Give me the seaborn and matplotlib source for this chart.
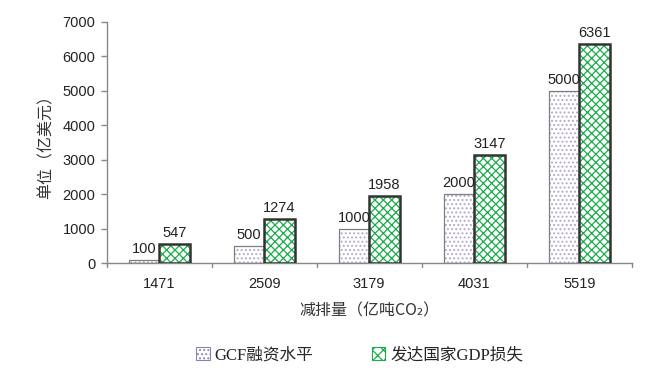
import matplotlib
matplotlib.use("Agg")
import matplotlib.pyplot as plt
import seaborn as sns
import pandas as pd
from matplotlib.patches import Rectangle

categories = ["1471", "2509", "3179", "4031", "5519"]
gcf_values = [100, 500, 1000, 2000, 5000]
gdp_values = [547, 1274, 1958, 3147, 6361]
series_names = ["GCF融资水平", "发达国家GDP损失"]
yticks = [0, 1000, 2000, 3000, 4000, 5000, 6000, 7000]

sns.set_theme(style="white")
plt.rcParams['font.family'] = ['Liberation Sans', 'Noto Sans CJK SC', 'DejaVu Sans']
plt.rcParams['hatch.linewidth'] = 0.9

df = pd.DataFrame({
    "cat": categories * 2,
    "val": gcf_values + gdp_values,
    "series": [series_names[0]] * 5 + [series_names[1]] * 5,
})

fig = plt.figure(figsize=(6.54, 3.77), dpi=100)
ax = fig.add_axes([0.163, 0.302, 0.803, 0.640])

sns.barplot(data=df, x="cat", y="val", hue="series", hue_order=series_names,
            order=categories, width=0.58, gap=0, ax=ax, legend=False,
            palette=["white", "white"], saturation=1)

styles = [
    dict(hatch="....", hcolor="#b3a6cc", ecolor="#7f7f7f", lw=0.9),
    dict(hatch="xxxx", hcolor="#1aab4a", ecolor="#333333", lw=1.8),
]
bars = [p for p in ax.patches if isinstance(p, Rectangle)]
for i, p in enumerate(bars[:10]):
    s = styles[i // 5]
    p.set_facecolor("white")
    p.set_hatch(s["hatch"])
    p.set_edgecolor(s["hcolor"])
    p.set_linewidth(0)
    ax.add_patch(Rectangle((p.get_x(), p.get_y()), p.get_width(), p.get_height(),
                           fill=False, edgecolor=s["ecolor"], linewidth=s["lw"], zorder=3))
    v = p.get_height()
    ax.text(p.get_x() + p.get_width() / 2, v + 120, f"{int(v)}",
            ha="center", va="bottom", fontsize=10.5, color="#222222",
            family=['Liberation Sans', 'DejaVu Sans'], zorder=4)

ax.set_ylim(0, 7000)
ax.set_yticks(yticks)
ax.set_yticklabels([str(t) for t in yticks], fontsize=10.5, color="#222222")
ax.set_xlim(-0.5, 4.5)
ax.set_xticks(range(5))
ax.set_xticklabels(categories, fontsize=10.5, color="#222222")
ax.tick_params(axis="x", length=0, pad=10)
ax.tick_params(axis="y", length=4, width=1, color="#888888", direction="out", left=True, pad=4)
for xb in [-0.5, 0.5, 1.5, 2.5, 3.5, 4.5]:
    ax.plot([xb, xb], [0, -0.018], transform=ax.get_xaxis_transform(),
            color="#888888", lw=1, clip_on=False)

for side in ["top", "right"]:
    ax.spines[side].set_visible(False)
for side in ["left", "bottom"]:
    ax.spines[side].set_color("#888888")
    ax.spines[side].set_linewidth(1)

ax.set_xlabel("减排量（亿吨CO₂）", fontsize=11.5, color="#333333", labelpad=8,
              family=['Noto Sans CJK SC', 'DejaVu Sans'])
ax.set_ylabel("单位（亿美元）", fontsize=11.5, color="#333333", labelpad=6,
              family=['Noto Sans CJK SC', 'DejaVu Sans'])

h1 = Rectangle((0, 0), 1, 1, facecolor="white", hatch="....", edgecolor="#8f80b0", linewidth=0.8)
h2 = Rectangle((0, 0), 1, 1, facecolor="white", hatch="xxx", edgecolor="#1aab4a", linewidth=0.8)
leg = fig.legend([h1, h2], series_names, loc="center", bbox_to_anchor=(0.55, 0.057),
                 ncol=2, frameon=False, handlelength=0.8, handleheight=0.8,
                 columnspacing=3.5, handletextpad=0.3,
                 prop=dict(family=['Liberation Serif', 'Noto Sans CJK SC'], size=12))

fig.savefig("out.png", dpi=100)
